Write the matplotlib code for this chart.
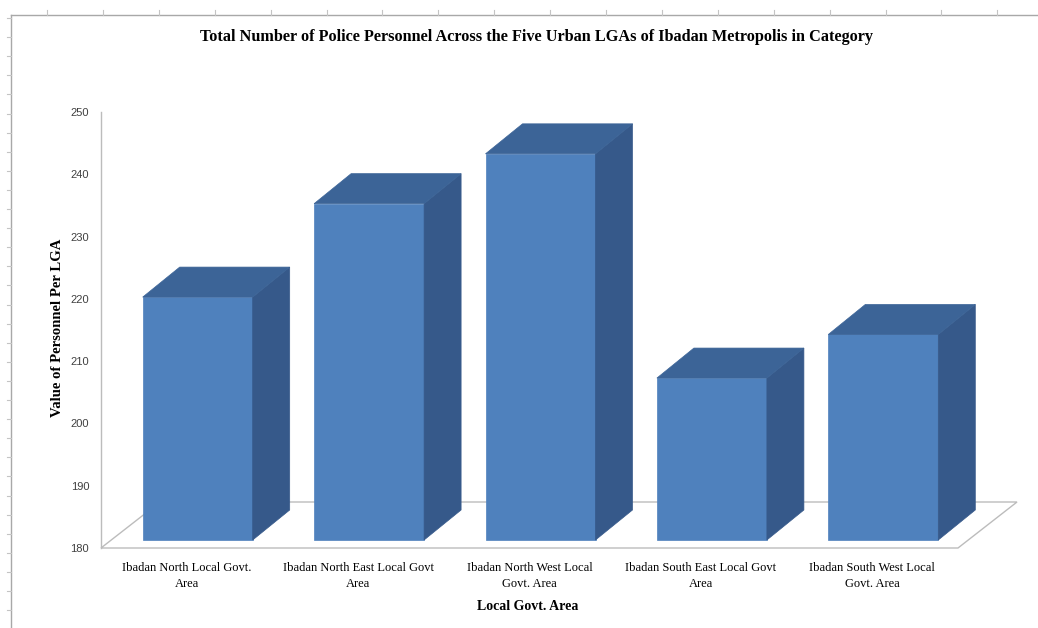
import numpy as np
import matplotlib.pyplot as plt
from matplotlib.patches import Polygon

# ─── Data ─────────────────────────────────────────────────────────────────────
LGAS = [
    "Ibadan North Local Govt.\nArea",
    "Ibadan North East Local Govt\nArea",
    "Ibadan North West Local\nGovt. Area",
    "Ibadan South East Local Govt\nArea",
    "Ibadan South West Local\nGovt. Area",
]
PERSONNEL = [219, 234, 242, 206, 213]
Y_TICKS = [180, 190, 200, 210, 220, 230, 240, 250]

TITLE = ("Total Number of Police Personnel Across the Five Urban LGAs "
         "of Ibadan Metropolis in Category")

# ─── Style ────────────────────────────────────────────────────────────────────
W, H = 1038, 628
X0, X1 = 101, 958          # px of the front floor edge
Y0, Y1 = 548, 112          # px of 180 and 250
FRONT = "#4f81bd"
SIDE = "#36598a"
TOP = "#3c6497"
GRID = "#bcbcbc"
SERIF = "Liberation Serif"

fig = plt.figure(figsize=(W / 100, H / 100), dpi=100)

# sheet frame behind the chart
bg = fig.add_axes([0, 0, 1, 1], zorder=-1)
bg.set_xlim(0, W)
bg.set_ylim(H, 0)
bg.axis("off")
bg.plot([11, W], [15, 15], color="#a8a8a8", lw=1)
bg.plot([11, 11], [15, H], color="#a8a8a8", lw=1)
for tx in np.arange(47, W, 55.9):
    bg.plot([tx, tx], [10, 15], color="#c4c4c4", lw=0.8)
for ty in np.arange(18, H, 19.1):
    bg.plot([7, 11], [ty, ty], color="#c4c4c4", lw=0.8)

ax = fig.add_axes([X0 / W, 1 - Y0 / H, (X1 - X0) / W, (Y0 - Y1) / H])
ax.set_xlim(0, len(LGAS))
ax.set_ylim(Y_TICKS[0], Y_TICKS[-1])

# px -> data unit conversion for the oblique depth
sx = (X1 - X0) / len(LGAS)
sy = (Y0 - Y1) / (Y_TICKS[-1] - Y_TICKS[0])
floor_dx, floor_dy = 59 / sx, 46 / sy
bar_dx, bar_dy = 37 / sx, 30 / sy
off_dx, off_dy = (floor_dx - bar_dx) / 2, (floor_dy - bar_dy) / 2
bar_w = 110 / sx

base = Y_TICKS[0]
n = len(LGAS)

# floor
floor = Polygon([(0, base), (n, base), (n + floor_dx, base + floor_dy),
                 (floor_dx, base + floor_dy)], closed=True,
                facecolor="white", edgecolor=GRID, lw=1, clip_on=False, zorder=1)
ax.add_patch(floor)

# 3D-looking columns
for i, v in enumerate(PERSONNEL):
    x0 = i + 0.5 + off_dx - bar_w / 2
    x1 = x0 + bar_w
    yb = base + off_dy
    yt = v + off_dy
    front = [(x0, yb), (x1, yb), (x1, yt), (x0, yt)]
    side = [(x1, yb), (x1 + bar_dx, yb + bar_dy),
            (x1 + bar_dx, yt + bar_dy), (x1, yt)]
    top = [(x0, yt), (x1, yt), (x1 + bar_dx, yt + bar_dy), (x0 + bar_dx, yt + bar_dy)]
    for pts, c in ((front, FRONT), (side, SIDE), (top, TOP)):
        ax.add_patch(Polygon(pts, closed=True, facecolor=c, edgecolor=c,
                             lw=0.5, clip_on=False, zorder=2 + i))

# axes cosmetics
for s in ["top", "right", "bottom"]:
    ax.spines[s].set_visible(False)
ax.spines["left"].set_color(GRID)
ax.spines["left"].set_linewidth(1)
ax.set_yticks(Y_TICKS)
ax.set_yticklabels([str(t) for t in Y_TICKS], fontsize=8,
                   family="Liberation Sans", color="#404040")
ax.tick_params(axis="y", length=0, pad=8.5)
ax.set_xticks(np.arange(n) + 0.5)
ax.set_xticklabels(LGAS, fontsize=9, family=SERIF, linespacing=1.5)
ax.tick_params(axis="x", length=0, pad=10)
ax.patch.set_alpha(0)

fig.text(536 / W, 1 - 37 / H, TITLE, ha="center", va="center",
         fontsize=11.7, fontweight="bold", family=SERIF)
fig.text(58 / W, 1 - 328 / H, "Value of Personnel Per LGA", rotation=90,
         ha="center", va="center", fontsize=10.6, fontweight="bold", family=SERIF)
fig.text(528 / W, 1 - 607 / H, "Local Govt. Area", ha="center", va="center",
         fontsize=10, fontweight="bold", family=SERIF)

plt.savefig("out.png", dpi=100)
